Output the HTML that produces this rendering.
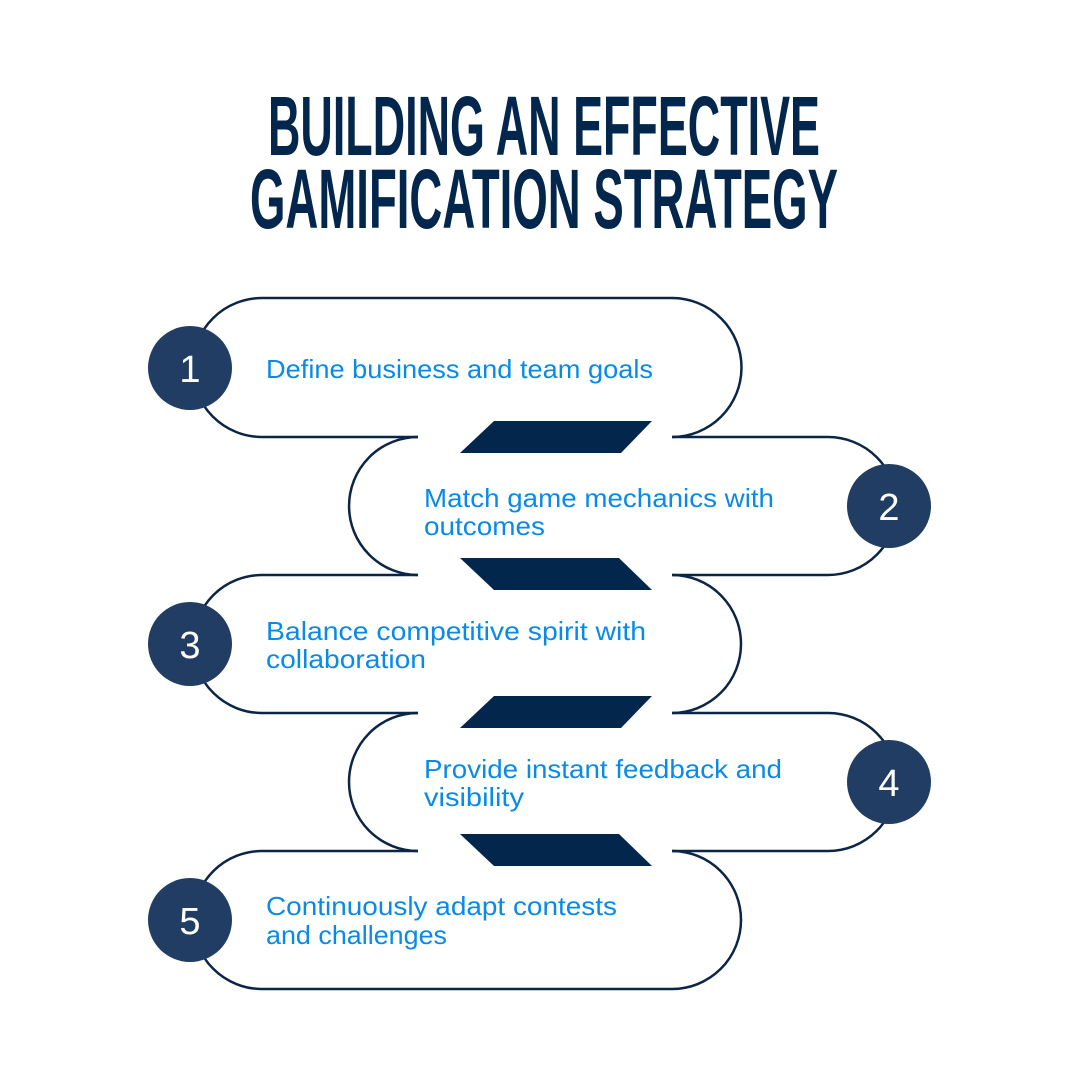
<!DOCTYPE html>
<html><head><meta charset="utf-8"><style>html,body{margin:0;padding:0;background:#fff}svg{display:block}</style></head>
<body>
<svg width="1080" height="1080" viewBox="0 0 1080 1080" xmlns="http://www.w3.org/2000/svg">
<rect width="1080" height="1080" fill="#fff"/>
<g font-family="Liberation Sans, sans-serif" font-weight="bold" fill="#03264d" font-size="84">
<text x="268" y="155" textLength="552" lengthAdjust="spacingAndGlyphs">BUILDING AN EFFECTIVE</text>
<text x="250" y="228" textLength="588" lengthAdjust="spacingAndGlyphs">GAMIFICATION STRATEGY</text>
</g>
<g fill="none" stroke="#0b2547" stroke-width="2.5">
<path d="M418,437 L262,437 A69.5,69.5 0 0 1 262,298 L672,298 A69.5,69.5 0 0 1 672,437"/>
<path d="M672,437 L828,437 A69,69 0 0 1 828,575 L672,575"/>
<path d="M418,437 A69,69 0 0 0 418,575"/>
<path d="M418,575 L262,575 A69,69 0 0 0 262,713 L418,713"/>
<path d="M672,575 A69,69 0 0 1 672,713"/>
<path d="M672,713 L828,713 A69,69 0 0 1 828,851 L672,851"/>
<path d="M418,713 A69,69 0 0 0 418,851"/>
<path d="M418,851 L262,851 A69,69 0 0 0 262,989 L672,989 A69,69 0 0 0 672,851"/>
</g>
<g fill="#03264d">
<polygon points="494,421 652,421 621,453 460,453"/>
<polygon points="460,558 619,558 652,590 494,590"/>
<polygon points="494,696 652,696 621,728 460,728"/>
<polygon points="460,834 619,834 652,866 494,866"/>
</g>
<g fill="#213d63">
<circle cx="190" cy="368" r="42"/><circle cx="889" cy="506" r="42"/><circle cx="190" cy="644" r="42"/><circle cx="889" cy="782" r="42"/><circle cx="190" cy="920" r="42"/>
</g>
<g fill="#fff" font-family="Liberation Sans, sans-serif" font-size="38" text-anchor="middle">
<text x="190" y="382">1</text><text x="889" y="520">2</text><text x="190" y="658">3</text><text x="889" y="796">4</text><text x="190" y="934">5</text>
</g>
<g fill="#0a8ae8" font-family="Liberation Sans, sans-serif" font-size="26">
<text x="266" y="378" textLength="387" lengthAdjust="spacingAndGlyphs">Define business and team goals</text>
<text x="424" y="507" textLength="350" lengthAdjust="spacingAndGlyphs">Match game mechanics with</text>
<text x="424" y="535" textLength="121" lengthAdjust="spacingAndGlyphs">outcomes</text>
<text x="266" y="640" textLength="380" lengthAdjust="spacingAndGlyphs">Balance competitive spirit with</text>
<text x="266" y="668" textLength="160" lengthAdjust="spacingAndGlyphs">collaboration</text>
<text x="424" y="778" textLength="358" lengthAdjust="spacingAndGlyphs">Provide instant feedback and</text>
<text x="424" y="806" textLength="100" lengthAdjust="spacingAndGlyphs">visibility</text>
<text x="266" y="915" textLength="351" lengthAdjust="spacingAndGlyphs">Continuously adapt contests</text>
<text x="266" y="944" textLength="181" lengthAdjust="spacingAndGlyphs">and challenges</text>
</g>
</svg>
</body></html>
